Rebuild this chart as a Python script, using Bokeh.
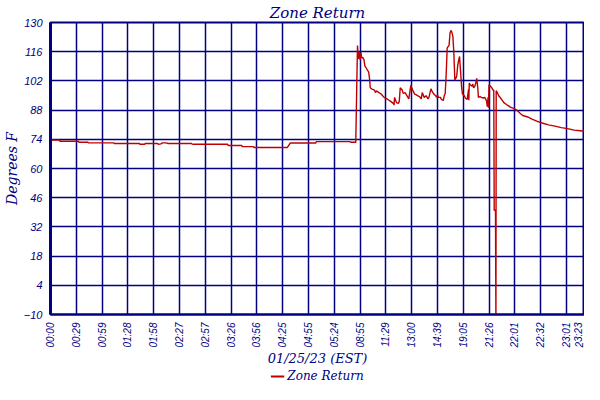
from bokeh.plotting import figure
from bokeh.models import FixedTicker, Legend, LegendItem
from bokeh.layouts import column
from bokeh.embed import file_html
from bokeh.resources import INLINE

# ---- data (sample position along the log, temperature in deg F) ----
sample_pos = [
    0, 10.5, 11, 32.5, 33, 43.5, 44, 73.5, 74, 103.5, 104, 109.5, 110, 124.5,
    125.4, 128.4, 130, 134, 137, 164, 165, 166, 206, 206.6, 222.5, 223, 236,
    236.6, 275.5, 278.8, 308.5, 309, 348.5, 349, 355,
    356, 357, 358, 359, 360, 361, 362, 363, 364.5, 365.6, 367.8, 370, 371.2,
    371.8, 373.4, 376.7, 377.9, 379, 381.2, 384.5, 387.9, 392.3, 395.6, 399,
    399.5, 400.1, 402.3, 404.5, 405.6, 406.7, 409, 410.1, 412.3, 414.5, 415.6,
    416.7, 419, 420.1, 421.2, 423.4, 425.6, 426.8, 429, 431.2, 432.3, 433.4,
    434.6, 436.8, 439, 440.1, 442.4, 443.5, 445.7, 447.9, 449, 450.1, 451.2,
    453.5, 454.6, 456.8, 457.9, 459, 460.1, 461.3, 463.5, 464.6, 465.7, 466.8,
    467.9, 469, 470.2, 471.3, 472.4, 473.5, 474.6, 475.7, 476.8, 478, 479.1,
    481.3, 482.4, 484.6, 486.2, 486.5, 487, 488, 490.2, 491, 492.1, 493.9,
    495.7, 496.9, 497.6, 499.4, 501.3, 503.2, 505, 506.9, 508, 508.8, 509.4,
    509.9, 511.7, 513.2, 514.7, 515.5, 516, 517.5, 518, 518.3, 519.9, 521.3,
    523.6, 525.4, 527.2, 530.2, 532.8, 534.7, 538.4, 542.1, 545.8, 549.1, 555,
    560.6, 566.2, 571.7, 579.2, 586.6, 594, 601.4, 608.9, 616.2, 621,
]
temp_f = [
    73.6, 73.6, 73.1, 73.1, 72.6, 72.6, 72.3, 72.3, 72.0, 72.0, 71.6, 71.6, 72.0, 72.0,
    71.6, 71.8, 72.3, 72.3, 72.0, 72.0, 71.7, 71.6, 71.6, 71.0, 71.0, 70.5, 70.5,
    70.1, 70.1, 72.2, 72.2, 72.9, 72.9, 72.6, 72.6,
    96.0, 119.0, 112.5, 116.0, 112.0, 115.5, 113.0, 113.3, 112.2, 109.2, 107.7, 106.2, 102.5,
    98.7, 98.2, 97.6, 96.4, 97.2, 96.6, 95.7, 94.1, 93.1, 92.2, 91.1,
    90.4, 94.1, 91.6, 91.2, 92.2, 98.7, 97.6, 96.0, 96.4, 94.9, 94.1,
    93.4, 99.9, 98.7, 97.6, 95.7, 95.3, 94.9, 94.5, 93.4, 96.4, 95.3,
    94.1, 94.9, 93.4, 94.1, 98.2, 97.2, 95.7, 94.9, 94.1, 95.3, 94.1,
    94.1, 93.1, 92.6, 94.9, 96.0, 104.7, 117.8, 119.0, 125.0, 126.2, 125.3,
    123.5, 116.0, 102.5, 103.2, 104.2, 109.2, 111.8, 113.7, 107.0, 99.4, 95.7,
    94.9, 93.8, 93.1, 98.0, 92.7, 101.0, 100.2, 99.4, 100.6, 98.7, 99.9,
    103.2, 98.7, 94.1, 94.5, 94.1, 93.8, 94.1, 92.6, 89.6, 94.1, 89.1,
    100.2, 99.4, 98.7, 97.6, 97.6, 40.0, 40.0, -17.7, 97.3, 96.1, 94.9,
    93.7, 92.7, 91.6, 90.7, 90.0, 89.4, 88.8, 88.0, 86.6, 85.4, 84.7,
    83.6, 82.6, 81.8, 80.9, 80.3, 79.6, 79.1, 78.4, 78.1, 77.8,
]

x_tick_pos = [0, 30, 60, 90, 120, 150, 180, 210, 240, 270, 300, 330, 360, 390,
              420, 450, 480, 510, 540, 570, 600, 621]
x_tick_labels = ["00:00", "00:29", "00:59", "01:28", "01:58", "02:27", "02:57",
                 "03:26", "03:56", "04:25", "04:55", "05:24", "08:55", "11:29",
                 "13:00", "14:39", "19:05", "21:26", "22:01", "22:32", "23:01",
                 "23:23"]
y_ticks = [-10, 4, 18, 32, 46, 60, 74, 88, 102, 116, 130]
series_name = "Zone Return"

NAVY = "#000080"
RED = "#c00000"

p = figure(width=584, height=368, x_range=(0, 621), y_range=(-10, 130),
           output_backend="svg", toolbar_location=None,
           min_border_left=0, min_border_right=0, min_border_top=0,
           min_border_bottom=0)

p.title.text = "Zone Return"
p.title.align = "center"
p.title.text_font = "DejaVu Serif"
p.title.text_font_style = "italic"
p.title.text_font_size = "15px"
p.title.text_color = NAVY
p.title.standoff = 2

r = p.line(sample_pos, temp_f, line_color=RED, line_width=1.4)

p.xaxis.ticker = FixedTicker(ticks=x_tick_pos)
p.xaxis.major_label_overrides = {t: l for t, l in zip(x_tick_pos, x_tick_labels)}
p.xaxis.major_label_orientation = 1.5708
p.yaxis.ticker = FixedTicker(ticks=y_ticks)

for ax in (p.xaxis, p.yaxis):
    ax.major_label_text_font = "Liberation Sans"
    ax.major_label_text_font_style = "italic"
    ax.major_label_text_font_size = "11px"
    ax.major_label_text_color = NAVY
    ax.axis_line_color = NAVY
    ax.major_tick_line_color = None
    ax.minor_tick_line_color = None
    ax.major_label_standoff = 2
    ax.axis_label_text_font = "DejaVu Serif"
    ax.axis_label_text_font_style = "italic"
    ax.axis_label_text_font_size = "14px"
    ax.axis_label_text_color = NAVY
    ax.axis_label_standoff = 1

p.xaxis.major_label_text_font_size = "10px"
p.xaxis.axis_label_text_font_size = "13px"
p.xaxis.axis_label_standoff = 0
p.xaxis.axis_label = "01/25/23 (EST)"
p.yaxis.axis_label = "Degrees F"
p.yaxis.axis_line_width = 3
p.xaxis.axis_line_width = 2

p.xgrid.ticker = FixedTicker(ticks=x_tick_pos)
p.ygrid.ticker = FixedTicker(ticks=y_ticks)
for g in (p.xgrid, p.ygrid):
    g.grid_line_color = NAVY
    g.grid_line_width = 1.5
    g.grid_line_alpha = 1.0

p.outline_line_color = NAVY
p.outline_line_width = 2
p.background_fill_color = "white"
p.border_fill_color = "white"

# legend strip beneath the chart (series drawn off-range so only its swatch shows)
lg = figure(width=584, height=16, output_backend="svg", toolbar_location=None,
            min_border=0, x_range=(0, 1), y_range=(0, 1))
lg.axis.visible = False
lg.grid.visible = False
lg.outline_line_color = None
lr = lg.line(x=[5, 6], y=[5, 6], line_color=RED, line_width=2)
legend = Legend(items=[LegendItem(label=series_name, renderers=[lr])],
                orientation="horizontal", location="center",
                border_line_color=None, background_fill_alpha=0,
                padding=0, margin=0, spacing=0,
                glyph_width=14, glyph_height=14, label_height=14,
                label_standoff=3,
                label_text_font="DejaVu Serif", label_text_font_style="italic",
                label_text_font_size="12px", label_text_color=NAVY)
lg.add_layout(legend, "center")

layout = column(p, lg, spacing=0)
open("out.html", "w").write(file_html(layout, INLINE))
